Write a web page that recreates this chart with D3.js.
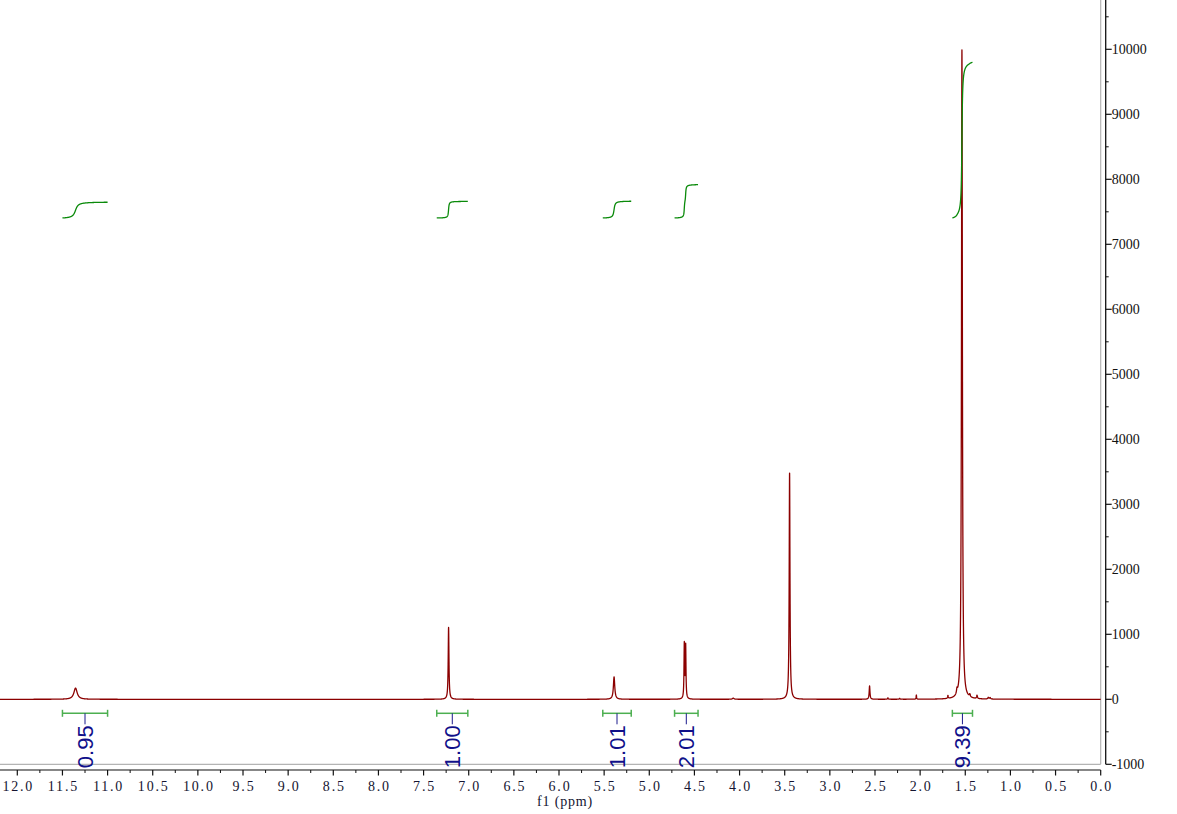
<!DOCTYPE html>
<html>
<head>
<meta charset="utf-8">
<script src="https://cdn.jsdelivr.net/npm/d3@7"></script>
<style>
  html, body { margin: 0; padding: 0; background: #ffffff; }
  svg { display: block; }
  .xt text { font-family: "Liberation Serif", "DejaVu Serif", serif; font-size: 14px; letter-spacing: 1.8px; fill: #141430; }
  .yt text { font-family: "Liberation Serif", "DejaVu Serif", serif; font-size: 14px; fill: #111; }
</style>
</head>
<body>
<svg id="chart" width="1177" height="814"></svg>
<script>
// ---- Data ----
// Spectrum peaks (chemical shift in ppm, height in intensity units, half-width at half-height in ppm)
const peakPpm    = [11.355, 7.223, 5.390, 4.612, 4.597, 4.070, 3.446, 2.560, 2.357, 2.227, 2.042, 1.692, 1.592, 1.537, 1.450, 1.370, 1.245, 1.225];
const peakHeight = [ 172,   1105,  345,   835,   810,   18,    3485,  205,   22,    14,    65,    45,    70,    9990,  40,    50,    25,    22];
const peakHwhm   = [0.022, 0.005, 0.009, 0.004, 0.004, 0.010, 0.005, 0.005, 0.004, 0.004, 0.003, 0.004, 0.006, 0.006, 0.006, 0.005, 0.006, 0.006];

// Integral regions
const integralFrom   = [11.50, 7.354, 5.515, 4.720, 1.643];
const integralTo     = [11.00, 7.010, 5.200, 4.460, 1.420];
const integralValues = [0.95, 1.00, 1.01, 2.01, 9.39];
const integralLabels = ["0.95", "1.00", "1.01", "2.01", "9.39"];
const integralBase = 7405;       // intensity level where each integral curve starts
const integralUnit = 255;        // intensity units per integral unit

// Axis ticks
const xMajorTicks = [12.0, 11.5, 11.0, 10.5, 10.0, 9.5, 9.0, 8.5, 8.0, 7.5, 7.0, 6.5, 6.0, 5.5, 5.0, 4.5, 4.0, 3.5, 3.0, 2.5, 2.0, 1.5, 1.0, 0.5, 0.0];
const xMinorTicks = [11.75, 11.25, 10.75, 10.25, 9.75, 9.25, 8.75, 8.25, 7.75, 7.25, 6.75, 6.25, 5.75, 5.25, 4.75, 4.25, 3.75, 3.25, 2.75, 2.25, 1.75, 1.25, 0.75, 0.25];
const yMajorTicks = [-1000, 0, 1000, 2000, 3000, 4000, 5000, 6000, 7000, 8000, 9000, 10000];
const yMinorTicks = [-500, 500, 1500, 2500, 3500, 4500, 5500, 6500, 7500, 8500, 9500, 10500];
const xTitle = "f1 (ppm)";

// ---- Layout ----
const svg = d3.select("#chart");
const plotLeft = 0, plotRight = 1100.7, plotTop = 0, plotBottom = 764.3;
const x = d3.scaleLinear().domain([12, 0]).range([17.3, 1100.7]);
const y = d3.scaleLinear().domain([-1000, 10000]).range([764.3, 49.3]);

function intensity(p) {
  let s = 0;
  for (let i = 0; i < peakPpm.length; i++) {
    const d = (p - peakPpm[i]) / peakHwhm[i];
    s += peakHeight[i] / (1 + d * d);
  }
  return s;
}

svg.append("defs").append("clipPath").attr("id", "plotclip")
  .append("rect").attr("x", plotLeft).attr("y", plotTop)
  .attr("width", plotRight - plotLeft).attr("height", plotBottom - plotTop);

// Frame (grey)
svg.append("line").attr("x1", plotLeft).attr("x2", plotRight).attr("y1", plotBottom).attr("y2", plotBottom)
  .attr("stroke", "#b4b4b4").attr("stroke-width", 1.2);
svg.append("line").attr("x1", plotRight).attr("x2", plotRight).attr("y1", plotTop).attr("y2", plotBottom)
  .attr("stroke", "#b4b4b4").attr("stroke-width", 1.2);

// Spectrum
const ppmStart = x.invert(plotLeft - 2), ppmEnd = x.invert(plotRight + 2);
const nPts = 26000;
const pts = d3.range(nPts + 1).map(i => {
  const p = ppmStart + (ppmEnd - ppmStart) * i / nPts;
  return [p, intensity(p)];
});
const gPlot = svg.append("g").attr("clip-path", "url(#plotclip)");
gPlot.append("path").datum(pts)
  .attr("d", d3.line().x(d => x(d[0])).y(d => y(d[1])))
  .attr("fill", "none").attr("stroke", "#8b0000").attr("stroke-width", 1.3)
  .attr("stroke-linejoin", "round");

// Integral curves
integralValues.forEach((val, k) => {
  const a = integralFrom[k], b = integralTo[k];
  const n = 600;
  const ps = d3.range(n + 1).map(i => a + (b - a) * i / n);
  const vals = ps.map(p => intensity(p));
  let cum = 0;
  const cums = vals.map(v => (cum += v));
  const total = cums[cums.length - 1];
  const curve = ps.map((p, i) => [p, integralBase + val * integralUnit * (cums[i] - cums[0]) / (total - cums[0])]);
  gPlot.append("path").datum(curve)
    .attr("d", d3.line().x(d => x(d[0])).y(d => y(d[1])))
    .attr("fill", "none").attr("stroke", "#0a8a0a").attr("stroke-width", 1.3);
});

// Integral brackets and labels
const bracketY = 713.3;
integralValues.forEach((val, k) => {
  const x1 = x(integralFrom[k]), x2 = x(integralTo[k]);
  const cx = (x1 + x2) / 2;
  const g = svg.append("g");
  g.append("line").attr("x1", x1).attr("x2", x2).attr("y1", bracketY).attr("y2", bracketY)
    .attr("stroke", "#4caf50").attr("stroke-width", 1.5);
  [x1, x2].forEach(xx => g.append("line").attr("x1", xx).attr("x2", xx)
    .attr("y1", bracketY - 3.5).attr("y2", bracketY + 3.5)
    .attr("stroke", "#4caf50").attr("stroke-width", 1.5));
  g.append("line").attr("x1", cx).attr("x2", cx).attr("y1", bracketY).attr("y2", bracketY + 11)
    .attr("stroke", "#1a1a8c").attr("stroke-width", 1);
  g.append("text")
    .attr("transform", `translate(${cx + 8},${bracketY + 12}) rotate(-90)`)
    .attr("text-anchor", "end")
    .attr("font-family", "Liberation Sans, Arial, sans-serif")
    .attr("font-size", 22)
    .attr("fill", "#10108a")
    .text(integralLabels[k]);
});

// X axis
const xAxisY = 770;
const gx = svg.append("g").attr("class", "xt").attr("transform", `translate(0,${xAxisY})`);
gx.append("line").attr("x1", plotLeft).attr("x2", x(0)).attr("y1", 0).attr("y2", 0)
  .attr("stroke", "#111").attr("stroke-width", 1.2);
gx.selectAll("line.minor").data(xMinorTicks).join("line").attr("class", "minor")
  .attr("x1", d => x(d)).attr("x2", d => x(d)).attr("y1", 0).attr("y2", 3)
  .attr("stroke", "#111").attr("stroke-width", 1);
gx.selectAll("line.major").data(xMajorTicks).join("line").attr("class", "major")
  .attr("x1", d => x(d)).attr("x2", d => x(d)).attr("y1", 0).attr("y2", 5.5)
  .attr("stroke", "#111").attr("stroke-width", 1.2);
gx.selectAll("text").data(xMajorTicks).join("text")
  .attr("x", d => x(d) + 1).attr("y", 21)
  .attr("text-anchor", "middle")
  .text(d => d3.format(".1f")(d));
svg.append("text").attr("x", x(6.0) + 6).attr("y", 806)
  .attr("text-anchor", "middle")
  .attr("font-family", "Liberation Serif, DejaVu Serif, serif").attr("font-size", 14)
  .attr("letter-spacing", "0.8px").attr("fill", "#141430")
  .text(xTitle);

// Y axis (right)
const yAxisX = 1105.7;
const gy = svg.append("g").attr("class", "yt").attr("transform", `translate(${yAxisX},0)`);
gy.append("line").attr("x1", 0).attr("x2", 0).attr("y1", 0).attr("y2", y(-1000))
  .attr("stroke", "#111").attr("stroke-width", 1.3);
gy.selectAll("line.minor").data(yMinorTicks).join("line").attr("class", "minor")
  .attr("x1", 0).attr("x2", 3).attr("y1", d => y(d)).attr("y2", d => y(d))
  .attr("stroke", "#111").attr("stroke-width", 1);
gy.selectAll("line.major").data(yMajorTicks).join("line").attr("class", "major")
  .attr("x1", 0).attr("x2", 6).attr("y1", d => y(d)).attr("y2", d => y(d))
  .attr("stroke", "#111").attr("stroke-width", 1.2);
gy.selectAll("text").data(yMajorTicks).join("text")
  .attr("x", 6).attr("y", d => y(d)).attr("dy", "0.35em")
  .text(d => d);
</script>
</body>
</html>
